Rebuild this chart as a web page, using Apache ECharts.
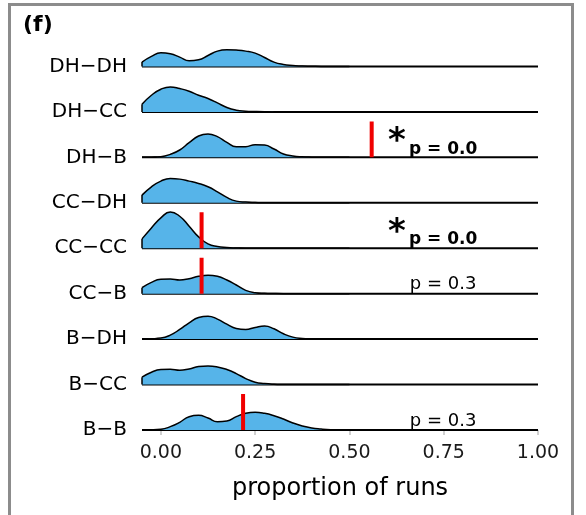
<!DOCTYPE html>
<html>
<head>
<meta charset="utf-8">
<script src="https://cdn.jsdelivr.net/npm/echarts@6/dist/echarts.min.js"></script>
<style>html,body{margin:0;padding:0;background:#fff}#main{width:586px;height:515px}</style>
</head>
<body>
<div id="main"></div>
<script>
// rows from bottom (0) to top (8)
var rowNames = ['B−B', 'B−CC', 'B−DH', 'CC−B', 'CC−CC', 'CC−DH', 'DH−B', 'DH−CC', 'DH−DH'];
var xTicks = [0, 0.25, 0.5, 0.75, 1];

// x positions where the densities were read
var densX = [-0.05, -0.025, 0, 0.025, 0.05, 0.075, 0.1, 0.125, 0.15, 0.175, 0.2, 0.225,
	0.25, 0.275, 0.3, 0.325, 0.35, 0.375, 0.4, 0.425, 0.45, 0.475, 0.5];

var dBB   = [0, 0.03, 0.2, 1.0, 2.3, 4.0, 4.4, 3.6, 2.5, 2.7, 4.0, 5.0, 5.3, 5.0, 4.3, 3.3, 2.1, 1.2, 0.6, 0.3, 0.1, 0.03, 0];
var dBCC  = [2.2, 3.7, 4.5, 4.6, 4.3, 4.7, 5.4, 5.6, 5.3, 4.5, 3.3, 1.8, 0.7, 0.3, 0.1, 0.03, 0, 0, 0, 0, 0, 0, 0];
var dBDH  = [0, 0.1, 0.3, 1.2, 2.9, 4.9, 6.5, 6.9, 6.0, 4.5, 3.2, 2.9, 3.5, 3.9, 3.1, 1.6, 0.6, 0.2, 0.06, 0, 0, 0, 0];
var dCCB  = [1.8, 3.4, 4.3, 4.4, 4.1, 4.5, 5.2, 5.5, 5.2, 4.1, 2.6, 1.0, 0.3, 0.1, 0.03, 0, 0, 0, 0, 0, 0, 0, 0];
var dCCCC = [2.8, 6.1, 9.1, 10.9, 9.6, 6.6, 3.4, 1.3, 0.5, 0.2, 0.07, 0, 0, 0, 0, 0, 0, 0, 0, 0, 0, 0, 0];
var dCCDH = [2.3, 4.8, 6.5, 7.3, 7.1, 6.5, 5.8, 4.8, 3.3, 1.6, 0.5, 0.2, 0.07, 0, 0, 0, 0, 0, 0, 0, 0, 0, 0];
var dDHB  = [0, 0.05, 0.2, 0.9, 2.2, 4.4, 6.4, 7.0, 6.2, 4.5, 3.2, 3.2, 3.8, 3.7, 2.5, 1.0, 0.4, 0.15, 0.05, 0, 0, 0, 0];
var dDHCC = [2.3, 5.0, 6.8, 7.5, 7.0, 6.2, 5.0, 4.0, 2.7, 1.3, 0.5, 0.2, 0.1, 0.03, 0, 0, 0, 0, 0, 0, 0, 0, 0];
var dDHDH = [1.3, 3.0, 4.1, 3.8, 2.8, 1.7, 2.0, 3.3, 4.6, 5.0, 4.9, 4.6, 4.0, 2.7, 1.3, 0.6, 0.3, 0.1, 0.05, 0, 0, 0, 0];
var densities = [dBB, dBCC, dBDH, dCCB, dCCCC, dCCDH, dDHB, dDHCC, dDHDH];

// observed values (red bars)
var redRow = [0, 3, 4, 6];
var redX = [0.218, 0.108, 0.108, 0.559];

// p-value notes
var pRow = [0, 3, 4, 6];
var pText = ['p = 0.3', 'p = 0.3', 'p = 0.0', 'p = 0.0'];
var pSig = [false, false, true, true];

var SCALE = 0.0733;   // density -> row height
var RED_H = 0.79;
var FONT = 'DejaVu Sans';

var series = [];
for (var i = 0; i < densities.length; i++) {
	// baseline of the row, across the whole panel
	series.push({
		type: 'line', data: [[densX[0], i], [1.0, i]], symbol: 'none', silent: true,
		lineStyle: { color: '#000', width: 2 }, z: 2
	});
	var d = densities[i];
	series.push({
		type: 'line', symbol: 'none', silent: true, smooth: 0.5,
		data: densX.map(function (x, k) { return [x, i + d[k] * SCALE]; }),
		lineStyle: { color: '#000', width: 1.5 },
		areaStyle: { color: '#56B4E9', opacity: 1, origin: i }, z: 3
	});
	// left edge of the density
	series.push({
		type: 'line', symbol: 'none', silent: true,
		data: [[densX[0], i], [densX[0], i + d[0] * SCALE]],
		lineStyle: { color: '#000', width: 1.5 }, z: 3
	});
}

// red bars, broken with gaps
var redData = [];
redX.forEach(function (x, k) {
	redData.push([x, redRow[k]], [x, redRow[k] + RED_H], ['-', '-']);
});
series.push({
	type: 'line', data: redData, symbol: 'none', silent: true, connectNulls: false,
	lineStyle: { color: '#f00000', width: 4 }, z: 5
});

// p annotations
var notes = [];
pRow.forEach(function (r, k) {
	if (pSig[k]) {
		notes.push({ value: [0.626, r + 0.335], label: { formatter: '*', fontSize: 34, fontWeight: 'bold', align: 'center' } });
		notes.push({ value: [0.658, r + 0.18], label: { formatter: pText[k], fontSize: 17, fontWeight: 'bold', align: 'left' } });
	} else {
		notes.push({ value: [0.66, r + 0.2], label: { formatter: pText[k], fontSize: 18, align: 'left' } });
	}
});
series.push({
	type: 'scatter', data: notes, symbolSize: 1, silent: true, z: 6,
	itemStyle: { color: 'rgba(255,255,255,0)', opacity: 1 },
	label: { show: true, position: 'inside', color: '#000', fontFamily: FONT, verticalAlign: 'middle' }
});

var myChart = echarts.init(document.getElementById('main'));
var option = {
	animation: false,
	backgroundColor: '#fff',
	grid: { left: 142, right: 48, top: 21, bottom: 85 },
	xAxis: {
		type: 'value', min: -0.05, max: 1,
		name: 'proportion of runs', nameLocation: 'middle', nameGap: 47,
		nameTextStyle: { fontFamily: FONT, fontSize: 24, color: '#000' },
		axisLine: { show: false },
		axisTick: { show: true, length: 5, customValues: xTicks, lineStyle: { color: '#d0d0d0', width: 2 } },
		splitLine: { show: false },
		axisLabel: {
			fontFamily: FONT, fontSize: 19, color: '#1a1a1a', margin: 14, customValues: xTicks,
			formatter: function (v) { return v.toFixed(2); }
		}
	},
	yAxis: {
		type: 'value', min: 0, max: 9, interval: 1,
		axisLine: { show: false }, axisTick: { show: false }, splitLine: { show: false },
		axisLabel: {
			fontFamily: FONT, fontSize: 20, color: '#000', margin: 15, padding: [0, 0, 12, 0],
			formatter: function (v) { return rowNames[v] || ''; }
		}
	},
	graphic: [
		{ type: 'rect', shape: { x: 9.5, y: 4.5, width: 563, height: 540 }, style: { fill: 'none', stroke: '#8c8c8c', lineWidth: 3 }, silent: true },
		{ type: 'text', left: 23, top: 14, style: { text: '(f)', font: 'bold 22px "DejaVu Sans"', fill: '#000' }, silent: true }
	],
	series: series
};
myChart.setOption(option);
</script>
</body>
</html>
